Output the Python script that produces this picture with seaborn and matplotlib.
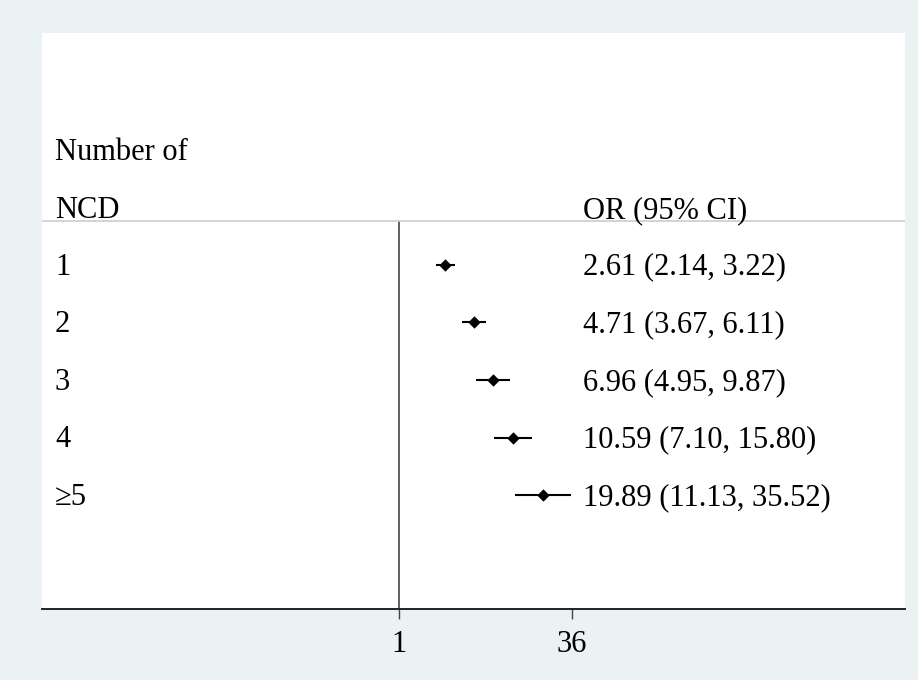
import numpy as np
import pandas as pd
import seaborn as sns
import matplotlib.pyplot as plt

sns.set_style("white")
plt.rcParams['font.family'] = ['Liberation Serif', 'DejaVu Serif']
plt.rcParams['text.color'] = 'black'
plt.rcParams['xtick.labelcolor'] = 'black'

# data
groups = ['1', '2', '3', '4', '\u22655']
odds = [2.61, 4.71, 6.96, 10.59, 19.89]
lower = [2.14, 3.67, 4.95, 7.10, 11.13]
upper = [3.22, 6.11, 9.87, 15.80, 35.52]
ticks = [1, 36]

df = pd.DataFrame({'group': groups, 'OR': odds, 'lo': lower, 'hi': upper})
df['row'] = np.arange(1, len(df) + 1)
df['label'] = ['%.2f (%.2f, %.2f)' % (o, l, h) for o, l, h in zip(odds, lower, upper)]

bg = '#eaf2f3'
fig = plt.figure(figsize=(9.18, 6.8), dpi=100, facecolor=bg)
ax = fig.add_axes([42 / 918, 71 / 680, 863 / 918, 576 / 680])
ax.set_facecolor('white')

fs = 22

ax.hlines(df['row'], df['lo'], df['hi'], color='black', lw=1.5, zorder=2)
sns.scatterplot(data=df, x='OR', y='row', marker='D', s=40, color='black',
                edgecolor='black', linewidth=0, ax=ax, zorder=3)

ax.set_xscale('log')
ax.set_xlim(np.exp(-7.394), np.exp(10.48))
ax.set_ylim(6.98, -3.03)

# null line and header separator
ax.vlines(1, 0.23, 6.98, color='#444444', lw=1.2, zorder=1)
ax.axhline(0.23, color='#cccccc', lw=1.2, zorder=1)

tr = ax.get_yaxis_transform()
ax.text(0.015, -0.95, 'Number of', transform=tr, fontsize=fs, va='center')
ax.text(0.015, 0.05, 'NCD', transform=tr, fontsize=fs, va='center')
ax.text(0.627, 0.05, 'OR (95% CI)', transform=tr, fontsize=fs, va='center')
for r, g, lab in zip(df['row'], df['group'], df['label']):
    ax.text(0.015, r + 0.04, g, transform=tr, fontsize=fs, va='center')
    ax.text(0.627, r + 0.04, lab, transform=tr, fontsize=fs, va='center')

ax.set_xticks(ticks)
ax.set_xticklabels([str(t) for t in ticks])
ax.xaxis.set_minor_locator(plt.NullLocator())
ax.set_yticks([])
ax.set_xlabel('')
ax.set_ylabel('')
ax.tick_params(axis='x', bottom=True, length=7, width=1, color='#444444',
               labelsize=fs, labelcolor='black', pad=8)
for s in ['top', 'right', 'left']:
    ax.spines[s].set_visible(False)
ax.spines['bottom'].set_color('#222222')
ax.spines['bottom'].set_linewidth(1.4)

fig.savefig('out.png', dpi=100, facecolor=bg)
